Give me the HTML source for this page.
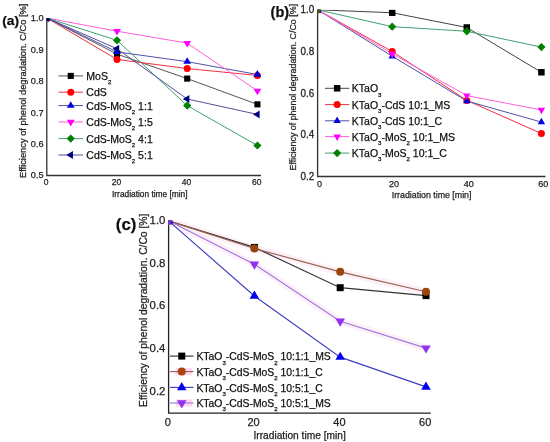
<!DOCTYPE html>
<html><head><meta charset="utf-8"><style>
html,body{margin:0;padding:0;background:#fff;}
svg{display:block;font-family:"Liberation Sans", sans-serif;}
</style></head><body>
<svg width="550" height="442" viewBox="0 0 550 442">
<defs><filter id="soft" x="0" y="0" width="100%" height="100%"><feGaussianBlur stdDeviation="0.3"/></filter></defs>
<rect width="550" height="442" fill="#fff"/>
<g filter="url(#soft)">
<path d="M46.80,18.00 L46.80,175.50 L261.00,175.50" fill="none" stroke="#333" stroke-width="1.3"/>
<clipPath id="clipa"><rect x="46.80" y="18.00" width="234.20" height="157.50"/></clipPath>
<g clip-path="url(#clipa)">
<polyline points="46.80,18.00 117.00,54.11 187.20,78.60 257.40,104.35" fill="none" stroke="#555" stroke-width="1.0"/>
<polyline points="46.80,18.00 117.00,59.45 187.20,68.55 257.40,75.46" fill="none" stroke="#f03040" stroke-width="1.0"/>
<polyline points="46.80,18.00 117.00,51.91 187.20,61.65 257.40,74.52" fill="none" stroke="#5050a8" stroke-width="1.0"/>
<polyline points="46.80,18.00 117.00,31.19 187.20,43.12 257.40,90.85" fill="none" stroke="#ff60d8" stroke-width="1.0"/>
<polyline points="46.80,18.00 117.00,40.29 187.20,105.61 257.40,145.48" fill="none" stroke="#40a070" stroke-width="1.0"/>
<polyline points="46.80,18.00 117.00,48.77 187.20,99.01 257.40,114.40" fill="none" stroke="#5050a0" stroke-width="1.0"/>
<rect x="43.75" y="14.95" width="6.10" height="6.10" fill="#000"/>
<rect x="113.95" y="51.06" width="6.10" height="6.10" fill="#000"/>
<rect x="184.15" y="75.55" width="6.10" height="6.10" fill="#000"/>
<rect x="254.35" y="101.30" width="6.10" height="6.10" fill="#000"/>
<circle cx="46.80" cy="18.00" r="3.50" fill="#f00"/>
<circle cx="117.00" cy="59.45" r="3.50" fill="#f00"/>
<circle cx="187.20" cy="68.55" r="3.50" fill="#f00"/>
<circle cx="257.40" cy="75.46" r="3.50" fill="#f00"/>
<polygon points="46.80,13.60 50.70,20.20 42.90,20.20" fill="#0000e0"/>
<polygon points="117.00,47.51 120.90,54.11 113.10,54.11" fill="#0000e0"/>
<polygon points="187.20,57.25 191.10,63.85 183.30,63.85" fill="#0000e0"/>
<polygon points="257.40,70.12 261.30,76.72 253.50,76.72" fill="#0000e0"/>
<polygon points="46.80,22.40 50.70,15.80 42.90,15.80" fill="#f0f"/>
<polygon points="117.00,35.59 120.90,28.99 113.10,28.99" fill="#f0f"/>
<polygon points="187.20,47.52 191.10,40.92 183.30,40.92" fill="#f0f"/>
<polygon points="257.40,95.25 261.30,88.65 253.50,88.65" fill="#f0f"/>
<polygon points="46.80,13.90 50.90,18.00 46.80,22.10 42.70,18.00" fill="#008000"/>
<polygon points="117.00,36.19 121.10,40.29 117.00,44.39 112.90,40.29" fill="#008000"/>
<polygon points="187.20,101.51 191.30,105.61 187.20,109.71 183.10,105.61" fill="#008000"/>
<polygon points="257.40,141.38 261.50,145.48 257.40,149.58 253.30,145.48" fill="#008000"/>
<polygon points="42.40,18.00 49.00,14.10 49.00,21.90" fill="#000080"/>
<polygon points="112.60,48.77 119.20,44.87 119.20,52.67" fill="#000080"/>
<polygon points="182.80,99.01 189.40,95.11 189.40,102.91" fill="#000080"/>
<polygon points="253.00,114.40 259.60,110.50 259.60,118.30" fill="#000080"/>
</g>
<text x="43.60" y="21.36" font-size="9.2" text-anchor="end" font-weight="normal" fill="#222" stroke="#222" stroke-width="0.25" >1.0</text>
<text x="43.60" y="52.76" font-size="9.2" text-anchor="end" font-weight="normal" fill="#222" stroke="#222" stroke-width="0.25" >0.9</text>
<text x="43.60" y="84.16" font-size="9.2" text-anchor="end" font-weight="normal" fill="#222" stroke="#222" stroke-width="0.25" >0.8</text>
<text x="43.60" y="115.56" font-size="9.2" text-anchor="end" font-weight="normal" fill="#222" stroke="#222" stroke-width="0.25" >0.7</text>
<text x="43.60" y="146.96" font-size="9.2" text-anchor="end" font-weight="normal" fill="#222" stroke="#222" stroke-width="0.25" >0.6</text>
<text x="43.60" y="178.36" font-size="9.2" text-anchor="end" font-weight="normal" fill="#222" stroke="#222" stroke-width="0.25" >0.5</text>
<text x="46.20" y="185.32" font-size="8.5" text-anchor="middle" font-weight="normal" fill="#222" stroke="#222" stroke-width="0.25" >0</text>
<text x="116.40" y="185.32" font-size="8.5" text-anchor="middle" font-weight="normal" fill="#222" stroke="#222" stroke-width="0.25" >20</text>
<text x="186.60" y="185.32" font-size="8.5" text-anchor="middle" font-weight="normal" fill="#222" stroke="#222" stroke-width="0.25" >40</text>
<text x="256.80" y="185.32" font-size="8.5" text-anchor="middle" font-weight="normal" fill="#222" stroke="#222" stroke-width="0.25" >60</text>
<text x="149.80" y="197.00" font-size="8.35" text-anchor="middle" font-weight="normal" fill="#222" stroke="#222" stroke-width="0.25" >Irradiation time [min]</text>
<text x="0" y="0" font-size="9.3" text-anchor="middle" fill="#222" stroke="#222" stroke-width="0.25" transform="translate(25.60,90.80) rotate(-90)">Efficiency of phenol degradation. C/Co [%]</text>
<text x="2.30" y="24.60" font-size="13.7" text-anchor="start" font-weight="bold" fill="#111" stroke="#111" stroke-width="0.25" >(a)</text>
<line x1="58.50" y1="75.90" x2="83.00" y2="75.90" stroke="#555" stroke-width="1.0"/>
<rect x="67.70" y="72.85" width="6.10" height="6.10" fill="#000"/>
<text x="86.30" y="79.81" font-size="10.5" text-anchor="start" font-weight="normal" fill="#111" stroke="#111" stroke-width="0.25" >MoS<tspan font-size="6.09" dy="4.20">2</tspan><tspan dy="-4.20"></tspan></text>
<line x1="58.50" y1="92.20" x2="83.00" y2="92.20" stroke="#f03040" stroke-width="1.0"/>
<circle cx="70.75" cy="92.20" r="3.50" fill="#f00"/>
<text x="86.30" y="96.11" font-size="10.5" text-anchor="start" font-weight="normal" fill="#111" stroke="#111" stroke-width="0.25" >CdS</text>
<line x1="58.50" y1="105.60" x2="83.00" y2="105.60" stroke="#5050a8" stroke-width="1.0"/>
<polygon points="70.75,101.20 74.65,107.80 66.85,107.80" fill="#0000e0"/>
<text x="86.30" y="109.51" font-size="10.5" text-anchor="start" font-weight="normal" fill="#111" stroke="#111" stroke-width="0.25" >CdS-MoS<tspan font-size="6.09" dy="4.20">2</tspan><tspan dy="-4.20"> 1:1</tspan></text>
<line x1="58.50" y1="122.00" x2="83.00" y2="122.00" stroke="#ff60d8" stroke-width="1.0"/>
<polygon points="70.75,126.40 74.65,119.80 66.85,119.80" fill="#f0f"/>
<text x="86.30" y="125.91" font-size="10.5" text-anchor="start" font-weight="normal" fill="#111" stroke="#111" stroke-width="0.25" >CdS-MoS<tspan font-size="6.09" dy="4.20">2</tspan><tspan dy="-4.20"> 1:5</tspan></text>
<line x1="58.50" y1="138.60" x2="83.00" y2="138.60" stroke="#40a070" stroke-width="1.0"/>
<polygon points="70.75,134.50 74.85,138.60 70.75,142.70 66.65,138.60" fill="#008000"/>
<text x="86.30" y="142.51" font-size="10.5" text-anchor="start" font-weight="normal" fill="#111" stroke="#111" stroke-width="0.25" >CdS-MoS<tspan font-size="6.09" dy="4.20">2</tspan><tspan dy="-4.20"> 4:1</tspan></text>
<line x1="58.50" y1="155.00" x2="83.00" y2="155.00" stroke="#5050a0" stroke-width="1.0"/>
<polygon points="66.35,155.00 72.95,151.10 72.95,158.90" fill="#000080"/>
<text x="86.30" y="158.91" font-size="10.5" text-anchor="start" font-weight="normal" fill="#111" stroke="#111" stroke-width="0.25" >CdS-MoS<tspan font-size="6.09" dy="4.20">2</tspan><tspan dy="-4.20"> 5:1</tspan></text>
<path d="M317.60,9.80 L317.60,176.50 L545.50,176.50" fill="none" stroke="#333" stroke-width="1.3"/>
<clipPath id="clipb"><rect x="317.60" y="9.80" width="247.90" height="166.70"/></clipPath>
<g clip-path="url(#clipb)">
<polyline points="317.60,9.80 392.20,12.72 466.80,27.50 541.40,72.28" fill="none" stroke="#444" stroke-width="1.0"/>
<polyline points="317.60,9.80 392.20,51.45 466.80,100.39 541.40,133.50" fill="none" stroke="#f03040" stroke-width="1.0"/>
<polyline points="317.60,9.80 392.20,56.24 466.80,101.01 541.40,122.05" fill="none" stroke="#5050a8" stroke-width="1.0"/>
<polyline points="317.60,9.80 392.20,53.74 466.80,95.60 541.40,109.97" fill="none" stroke="#ff60d8" stroke-width="1.0"/>
<polyline points="317.60,9.80 392.20,26.67 466.80,31.25 541.40,47.08" fill="none" stroke="#40a070" stroke-width="1.0"/>
<rect x="314.35" y="6.55" width="6.50" height="6.50" fill="#000"/>
<rect x="388.95" y="9.47" width="6.50" height="6.50" fill="#000"/>
<rect x="463.55" y="24.25" width="6.50" height="6.50" fill="#000"/>
<rect x="538.15" y="69.03" width="6.50" height="6.50" fill="#000"/>
<circle cx="317.60" cy="9.80" r="3.50" fill="#f00"/>
<circle cx="392.20" cy="51.45" r="3.50" fill="#f00"/>
<circle cx="466.80" cy="100.39" r="3.50" fill="#f00"/>
<circle cx="541.40" cy="133.50" r="3.50" fill="#f00"/>
<polygon points="317.60,5.40 321.30,12.00 313.90,12.00" fill="#0000e0"/>
<polygon points="392.20,51.84 395.90,58.44 388.50,58.44" fill="#0000e0"/>
<polygon points="466.80,96.61 470.50,103.21 463.10,103.21" fill="#0000e0"/>
<polygon points="541.40,117.65 545.10,124.25 537.70,124.25" fill="#0000e0"/>
<polygon points="317.60,14.20 321.30,7.60 313.90,7.60" fill="#f0f"/>
<polygon points="392.20,58.14 395.90,51.54 388.50,51.54" fill="#f0f"/>
<polygon points="466.80,100.00 470.50,93.40 463.10,93.40" fill="#f0f"/>
<polygon points="541.40,114.37 545.10,107.77 537.70,107.77" fill="#f0f"/>
<polygon points="317.60,5.60 321.70,9.80 317.60,14.00 313.50,9.80" fill="#008000"/>
<polygon points="392.20,22.47 396.30,26.67 392.20,30.87 388.10,26.67" fill="#008000"/>
<polygon points="466.80,27.05 470.90,31.25 466.80,35.45 462.70,31.25" fill="#008000"/>
<polygon points="541.40,42.88 545.50,47.08 541.40,51.28 537.30,47.08" fill="#008000"/>
</g>
<g transform="translate(0,9.50) scale(1,1.12) translate(0,-9.50)"><text x="314.20" y="12.91" font-size="9.9" text-anchor="end" font-weight="normal" fill="#222" stroke="#222" stroke-width="0.25" >1.0</text></g>
<g transform="translate(0,51.15) scale(1,1.12) translate(0,-51.15)"><text x="314.20" y="54.56" font-size="9.9" text-anchor="end" font-weight="normal" fill="#222" stroke="#222" stroke-width="0.25" >0.8</text></g>
<g transform="translate(0,92.80) scale(1,1.12) translate(0,-92.80)"><text x="314.20" y="96.21" font-size="9.9" text-anchor="end" font-weight="normal" fill="#222" stroke="#222" stroke-width="0.25" >0.6</text></g>
<g transform="translate(0,134.45) scale(1,1.12) translate(0,-134.45)"><text x="314.20" y="137.86" font-size="9.9" text-anchor="end" font-weight="normal" fill="#222" stroke="#222" stroke-width="0.25" >0.4</text></g>
<g transform="translate(0,176.10) scale(1,1.12) translate(0,-176.10)"><text x="314.20" y="179.51" font-size="9.9" text-anchor="end" font-weight="normal" fill="#222" stroke="#222" stroke-width="0.25" >0.2</text></g>
<text x="319.50" y="186.80" font-size="9.0" text-anchor="middle" font-weight="normal" fill="#222" stroke="#222" stroke-width="0.25" >0</text>
<text x="394.10" y="186.80" font-size="9.0" text-anchor="middle" font-weight="normal" fill="#222" stroke="#222" stroke-width="0.25" >20</text>
<text x="468.70" y="186.80" font-size="9.0" text-anchor="middle" font-weight="normal" fill="#222" stroke="#222" stroke-width="0.25" >40</text>
<text x="543.30" y="186.80" font-size="9.0" text-anchor="middle" font-weight="normal" fill="#222" stroke="#222" stroke-width="0.25" >60</text>
<text x="431.60" y="198.00" font-size="8.8" text-anchor="middle" font-weight="normal" fill="#222" stroke="#222" stroke-width="0.25" >Irradiation time [min]</text>
<text x="0" y="0" font-size="8.9" text-anchor="middle" fill="#222" stroke="#222" stroke-width="0.25" transform="translate(296.00,87.20) rotate(-90)">Efficiency of phenol degradation. C/Co [%]</text>
<text x="270.60" y="16.60" font-size="14.5" text-anchor="start" font-weight="bold" fill="#111" stroke="#111" stroke-width="0.25" >(b)</text>
<line x1="325.00" y1="88.30" x2="349.30" y2="88.30" stroke="#444" stroke-width="1.0"/>
<rect x="333.90" y="85.05" width="6.50" height="6.50" fill="#000"/>
<text x="351.80" y="92.31" font-size="10.5" text-anchor="start" font-weight="normal" fill="#111" stroke="#111" stroke-width="0.25" >KTaO<tspan font-size="6.09" dy="4.20">3</tspan><tspan dy="-4.20"></tspan></text>
<line x1="325.00" y1="104.60" x2="349.30" y2="104.60" stroke="#f03040" stroke-width="1.0"/>
<circle cx="337.15" cy="104.60" r="3.50" fill="#f00"/>
<text x="351.80" y="108.61" font-size="10.5" text-anchor="start" font-weight="normal" fill="#111" stroke="#111" stroke-width="0.25" >KTaO<tspan font-size="6.09" dy="4.20">3</tspan><tspan dy="-4.20">-CdS 10:1_MS</tspan></text>
<line x1="325.00" y1="120.80" x2="349.30" y2="120.80" stroke="#5050a8" stroke-width="1.0"/>
<polygon points="337.15,116.40 340.85,123.00 333.45,123.00" fill="#0000e0"/>
<text x="351.80" y="124.81" font-size="10.5" text-anchor="start" font-weight="normal" fill="#111" stroke="#111" stroke-width="0.25" >KTaO<tspan font-size="6.09" dy="4.20">3</tspan><tspan dy="-4.20">-CdS 10:1_C</tspan></text>
<line x1="325.00" y1="136.60" x2="349.30" y2="136.60" stroke="#ff60d8" stroke-width="1.0"/>
<polygon points="337.15,141.00 340.85,134.40 333.45,134.40" fill="#f0f"/>
<text x="351.80" y="140.61" font-size="10.5" text-anchor="start" font-weight="normal" fill="#111" stroke="#111" stroke-width="0.25" >KTaO<tspan font-size="6.09" dy="4.20">3</tspan><tspan dy="-4.20">-MoS<tspan font-size="6.09" dy="4.20">2</tspan><tspan dy="-4.20"> 10:1_MS</tspan></tspan></text>
<line x1="325.00" y1="153.10" x2="349.30" y2="153.10" stroke="#40a070" stroke-width="1.0"/>
<polygon points="337.15,148.90 341.25,153.10 337.15,157.30 333.05,153.10" fill="#008000"/>
<text x="351.80" y="157.11" font-size="10.5" text-anchor="start" font-weight="normal" fill="#111" stroke="#111" stroke-width="0.25" >KTaO<tspan font-size="6.09" dy="4.20">3</tspan><tspan dy="-4.20">-MoS<tspan font-size="6.09" dy="4.20">2</tspan><tspan dy="-4.20"> 10:1_C</tspan></tspan></text>
<path d="M168.60,220.40 L168.60,413.20 L430.70,413.20" fill="none" stroke="#222" stroke-width="1.3"/>
<clipPath id="clipc"><rect x="168.60" y="220.40" width="282.10" height="192.80"/></clipPath>
<g clip-path="url(#clipc)">
<polyline points="168.60,220.83 254.40,248.47 340.20,271.83 426.00,291.76" fill="none" stroke="#fdf0f8" stroke-width="7" stroke-linejoin="round"/>
<polyline points="168.60,220.83 254.40,264.33 340.20,321.34 426.00,348.12" fill="none" stroke="#fdf0f8" stroke-width="7" stroke-linejoin="round"/>
<polyline points="168.60,220.83 254.40,247.40 340.20,287.69 426.00,295.62" fill="none" stroke="#333" stroke-width="1.15"/>
<polyline points="168.60,220.83 254.40,248.47 340.20,271.83 426.00,291.76" fill="none" stroke="#9a6450" stroke-width="1.15"/>
<polyline points="168.60,220.83 254.40,296.05 340.20,357.12 426.00,386.91" fill="none" stroke="#4040c0" stroke-width="1.15"/>
<polyline points="168.60,220.83 254.40,264.33 340.20,321.34 426.00,348.12" fill="none" stroke="#a078e0" stroke-width="1.15"/>
<rect x="165.10" y="217.33" width="7.00" height="7.00" fill="#000"/>
<rect x="250.90" y="243.90" width="7.00" height="7.00" fill="#000"/>
<rect x="336.70" y="284.19" width="7.00" height="7.00" fill="#000"/>
<rect x="422.50" y="292.12" width="7.00" height="7.00" fill="#000"/>
<circle cx="168.60" cy="220.83" r="4.00" fill="#9a440e"/>
<circle cx="254.40" cy="248.47" r="4.00" fill="#9a440e"/>
<circle cx="340.20" cy="271.83" r="4.00" fill="#9a440e"/>
<circle cx="426.00" cy="291.76" r="4.00" fill="#9a440e"/>
<polygon points="168.60,215.36 173.40,223.56 163.80,223.56" fill="#0000f0"/>
<polygon points="254.40,290.58 259.20,298.78 249.60,298.78" fill="#0000f0"/>
<polygon points="340.20,351.66 345.00,359.86 335.40,359.86" fill="#0000f0"/>
<polygon points="426.00,381.44 430.80,389.64 421.20,389.64" fill="#0000f0"/>
<polygon points="168.60,226.30 173.40,218.10 163.80,218.10" fill="#9030f0"/>
<polygon points="254.40,269.80 259.20,261.60 249.60,261.60" fill="#9030f0"/>
<polygon points="340.20,326.80 345.00,318.60 335.40,318.60" fill="#9030f0"/>
<polygon points="426.00,353.59 430.80,345.39 421.20,345.39" fill="#9030f0"/>
</g>
<text x="165.40" y="223.72" font-size="11.4" text-anchor="end" font-weight="normal" fill="#222" stroke="#222" stroke-width="0.25" >1.0</text>
<text x="165.40" y="266.58" font-size="11.4" text-anchor="end" font-weight="normal" fill="#222" stroke="#222" stroke-width="0.25" >0.8</text>
<text x="165.40" y="309.44" font-size="11.4" text-anchor="end" font-weight="normal" fill="#222" stroke="#222" stroke-width="0.25" >0.6</text>
<text x="165.40" y="352.30" font-size="11.4" text-anchor="end" font-weight="normal" fill="#222" stroke="#222" stroke-width="0.25" >0.4</text>
<text x="165.40" y="395.16" font-size="11.4" text-anchor="end" font-weight="normal" fill="#222" stroke="#222" stroke-width="0.25" >0.2</text>
<text x="167.80" y="426.08" font-size="11" text-anchor="middle" font-weight="normal" fill="#222" stroke="#222" stroke-width="0.25" >0</text>
<text x="253.60" y="426.08" font-size="11" text-anchor="middle" font-weight="normal" fill="#222" stroke="#222" stroke-width="0.25" >20</text>
<text x="339.40" y="426.08" font-size="11" text-anchor="middle" font-weight="normal" fill="#222" stroke="#222" stroke-width="0.25" >40</text>
<text x="425.20" y="426.08" font-size="11" text-anchor="middle" font-weight="normal" fill="#222" stroke="#222" stroke-width="0.25" >60</text>
<text x="299.60" y="438.80" font-size="10.2" text-anchor="middle" font-weight="normal" fill="#222" stroke="#222" stroke-width="0.25" >Irradiation time [min]</text>
<text x="0" y="0" font-size="10.3" text-anchor="middle" fill="#222" stroke="#222" stroke-width="0.25" transform="translate(147.00,310.30) rotate(-90)">Efficiency of phenol degradation. C/Co [%]</text>
<text x="115.80" y="229.60" font-size="16.8" text-anchor="start" font-weight="bold" fill="#111" stroke="#111" stroke-width="0.25" >(c)</text>
<line x1="170.00" y1="356.10" x2="193.50" y2="356.10" stroke="#333" stroke-width="1.15"/>
<rect x="178.25" y="352.60" width="7.00" height="7.00" fill="#000"/>
<text x="196.40" y="360.38" font-size="10.4" text-anchor="start" font-weight="normal" fill="#111" stroke="#111" stroke-width="0.25" >KTaO<tspan font-size="6.03" dy="4.16">3</tspan><tspan dy="-4.16">-CdS-MoS<tspan font-size="6.03" dy="4.16">2</tspan><tspan dy="-4.16"> 10:1:1_MS</tspan></tspan></text>
<rect x="175.80" y="368.00" width="16.40" height="7.2" fill="#ffd8f0"/>
<line x1="170.00" y1="371.60" x2="193.50" y2="371.60" stroke="#9a6450" stroke-width="1.15"/>
<circle cx="181.75" cy="371.60" r="4.00" fill="#ac4210"/>
<text x="196.40" y="375.88" font-size="10.4" text-anchor="start" font-weight="normal" fill="#111" stroke="#111" stroke-width="0.25" >KTaO<tspan font-size="6.03" dy="4.16">3</tspan><tspan dy="-4.16">-CdS-MoS<tspan font-size="6.03" dy="4.16">2</tspan><tspan dy="-4.16"> 10:1:1_C</tspan></tspan></text>
<line x1="170.00" y1="387.40" x2="193.50" y2="387.40" stroke="#4040c0" stroke-width="1.15"/>
<polygon points="181.75,381.93 186.55,390.13 176.95,390.13" fill="#0000f0"/>
<text x="196.40" y="391.68" font-size="10.4" text-anchor="start" font-weight="normal" fill="#111" stroke="#111" stroke-width="0.25" >KTaO<tspan font-size="6.03" dy="4.16">3</tspan><tspan dy="-4.16">-CdS-MoS<tspan font-size="6.03" dy="4.16">2</tspan><tspan dy="-4.16"> 10:5:1_C</tspan></tspan></text>
<rect x="175.80" y="399.40" width="16.40" height="7.2" fill="#ffd8f0"/>
<line x1="170.00" y1="403.00" x2="193.50" y2="403.00" stroke="#a078e0" stroke-width="1.15"/>
<polygon points="181.75,408.47 186.55,400.27 176.95,400.27" fill="#9030f0"/>
<text x="196.40" y="407.28" font-size="10.4" text-anchor="start" font-weight="normal" fill="#111" stroke="#111" stroke-width="0.25" >KTaO<tspan font-size="6.03" dy="4.16">3</tspan><tspan dy="-4.16">-CdS-MoS<tspan font-size="6.03" dy="4.16">2</tspan><tspan dy="-4.16"> 10:5:1_MS</tspan></tspan></text>
</g>
</svg>
</body></html>
